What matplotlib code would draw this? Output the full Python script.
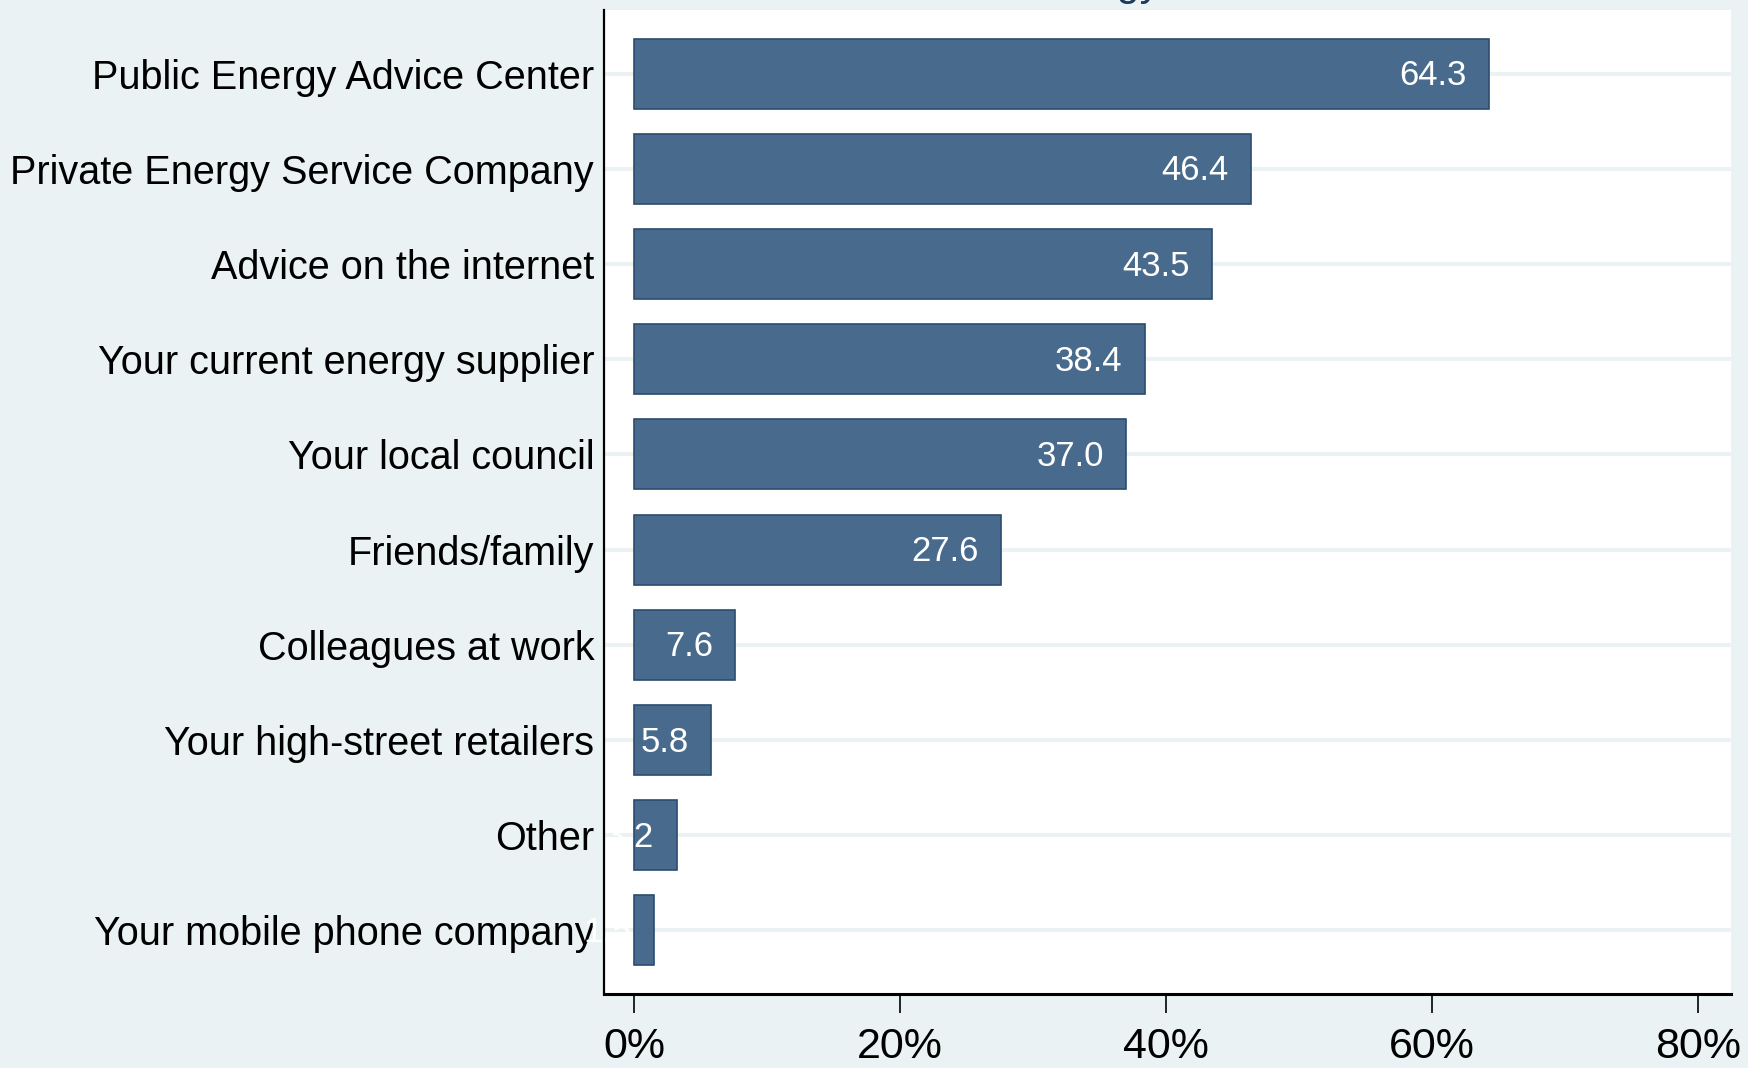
import numpy as np
import matplotlib
matplotlib.use("Agg")
from matplotlib import pyplot as plt

# data
categories = ["Public Energy Advice Center", "Private Energy Service Company",
              "Advice on the internet", "Your current energy supplier",
              "Your local council", "Friends/family", "Colleagues at work",
              "Your high-street retailers", "Other", "Your mobile phone company"]
shares = [64.3, 46.4, 43.5, 38.4, 37.0, 27.6, 7.6, 5.8, 3.2, 1.5]
xticks = [0, 20, 40, 60, 80]

plt.rcParams['font.family'] = ['Liberation Sans', 'DejaVu Sans']

bg = '#EAF2F3'
bar_col = '#486B8D'
edge_col = '#2A4C70'

fig = plt.figure(figsize=(17.48, 10.68), dpi=100, facecolor=bg)
ax = fig.add_axes([0.3455, 0.0693, 0.9903 - 0.3455, 0.9906 - 0.0693])
ax.set_facecolor('white')

y = np.arange(len(categories))

# grid lines first so bars sit on top
for yy in y:
    ax.axhline(yy, color=bg, lw=2.9, zorder=1)

ax.barh(y, shares, height=0.737, color=bar_col, edgecolor=edge_col,
        linewidth=1.2, zorder=2)

# value labels, white, inside the bar end (small ones spill over white)
for yy, v in zip(y, shares):
    ax.annotate(f"{v:.1f}", xy=(v, yy),
                xytext=(-16, -1.5), textcoords='offset points',
                ha='right', va='center', color='white', fontsize=25, zorder=3)

ax.set_xlim(-2.26, 82.5)
ax.set_ylim(len(categories) - 1 + 0.668, -0.668)

ax.set_yticks(y)
ax.set_yticklabels(categories, fontsize=28.5)
ax.tick_params(axis='y', length=0, pad=7)

ax.set_xticks(xticks)
ax.set_xticklabels([f"{t}%" for t in xticks], fontsize=31)
ax.tick_params(axis='x', length=13.5, width=1.2, pad=10)

for s in ['top', 'right']:
    ax.spines[s].set_visible(False)
ax.spines['left'].set_linewidth(1.6)
ax.spines['bottom'].set_linewidth(2.2)

# title sits above the canvas, only its descenders peek through
fig.text(1160 / 1748, 1 + 5.5 / 1068, "Most trusted source of advice on energy",
         ha='right', va='baseline', fontsize=30, color='#1C3A5E')

fig.savefig('out.png', dpi=100, facecolor=bg)
